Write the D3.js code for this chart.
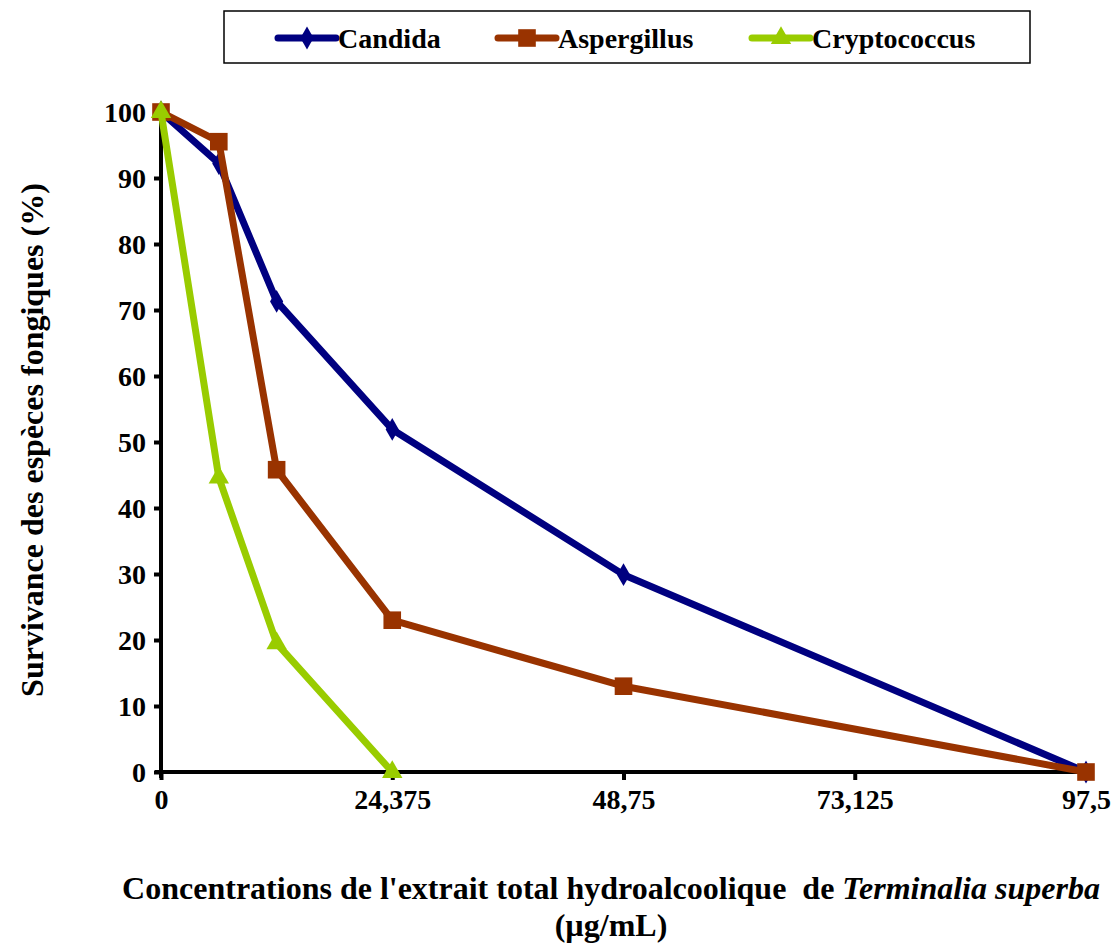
<!DOCTYPE html>
<html>
<head>
<meta charset="utf-8">
<script src="https://cdn.jsdelivr.net/npm/d3@7"></script>
<style>
  body { margin: 0; background: #fff; }
</style>
</head>
<body>
<div id="chart"></div>
<script>
const concentrations = [0, 6.09375, 12.1875, 24.375, 48.75, 97.5];
const candida = [100, 92.2, 71.3, 51.9, 29.9, 0];
const aspergillus = [100, 95.5, 45.8, 23.0, 13.0, 0];
const cryptococcus = [100, 44.6, 19.5, 0];
const xTicks = [0, 24.375, 48.75, 73.125, 97.5];
const xTickLabels = ["0", "24,375", "48,75", "73,125", "97,5"];
const yTicks = [0, 10, 20, 30, 40, 50, 60, 70, 80, 90, 100];

const FONT = "'Liberation Serif', 'Times New Roman', serif";

const series = [
  { name: "Candida", values: candida, color: "#000080", symbol: d3.symbolDiamond, size: 150 },
  { name: "Aspergillus", values: aspergillus, color: "#993300", symbol: d3.symbolSquare, size: 310 },
  { name: "Cryptococcus", values: cryptococcus, color: "#99cc00", symbol: d3.symbolTriangle, size: 180 }
];

const W = 1119, H = 943;
const svg = d3.select("#chart").append("svg")
  .attr("width", W)
  .attr("height", H)
  .attr("font-family", FONT)
  .attr("font-weight", "bold");

const x = d3.scaleLinear().domain([0, 97.5]).range([161, 1086]);
const y = d3.scaleLinear().domain([0, 100]).range([772, 112]);

// axes
const xAxis = svg.append("g")
  .attr("transform", "translate(0," + y(0) + ")")
  .call(d3.axisBottom(x).tickValues(xTicks).tickSize(8).tickPadding(5)
    .tickFormat((d, i) => xTickLabels[i]));
const yAxis = svg.append("g")
  .attr("transform", "translate(" + x(0) + ",0)")
  .call(d3.axisLeft(y).tickValues(yTicks).tickSize(7).tickPadding(8));

[xAxis, yAxis].forEach(a => {
  a.attr("font-family", FONT).attr("font-size", 28);
  a.select(".domain").attr("stroke", "#000").attr("stroke-width", 4);
  a.selectAll(".tick line").attr("stroke", "#000").attr("stroke-width", 4);
  a.selectAll(".tick text").attr("fill", "#000");
});
xAxis.select(".domain").attr("d", "M" + (x(0) - 6) + ",0H" + x(97.5));
yAxis.select(".domain").attr("d", "M0," + (y(0) + 6) + "V" + y(100));
xAxis.selectAll(".tick text").attr("dy", "0.85em");
yAxis.selectAll(".tick text").attr("dy", "0.35em");

// lines
const line = d3.line()
  .x((d, i) => x(concentrations[i]))
  .y(d => y(d));

series.forEach(s => {
  svg.append("path")
    .datum(s.values)
    .attr("fill", "none")
    .attr("stroke", s.color)
    .attr("stroke-width", 7)
    .attr("stroke-linejoin", "round")
    .attr("d", line);
  svg.selectAll(null)
    .data(s.values)
    .enter()
    .append("path")
    .attr("d", d3.symbol().type(s.symbol).size(s.size))
    .attr("transform", (d, i) => "translate(" + x(concentrations[i]) + "," + y(d) + ")")
    .attr("fill", s.color);
});

// legend
const legend = svg.append("g");
legend.append("rect")
  .attr("x", 224).attr("y", 11)
  .attr("width", 806).attr("height", 52)
  .attr("fill", "#fff")
  .attr("stroke", "#000")
  .attr("stroke-width", 1.5);

const legendX = [278, 498, 752];
series.forEach((s, i) => {
  const g = legend.append("g").attr("transform", "translate(" + legendX[i] + ",38)");
  g.append("line")
    .attr("x1", 0).attr("x2", 58)
    .attr("stroke", s.color).attr("stroke-width", 7)
    .attr("stroke-linecap", "round");
  g.append("path")
    .attr("d", d3.symbol().type(s.symbol).size(s.size))
    .attr("transform", "translate(29,0)")
    .attr("fill", s.color);
  g.append("text")
    .attr("x", 60).attr("y", 10)
    .attr("font-size", 28)
    .text(s.name);
});

// axis titles
svg.append("text")
  .attr("transform", "translate(43,440) rotate(-90)")
  .attr("text-anchor", "middle")
  .attr("font-size", 32)
  .text("Survivance des espèces fongiques (%)");

const xt = svg.append("text")
  .attr("x", 611).attr("y", 899)
  .attr("text-anchor", "middle")
  .attr("font-size", 32)
  .attr("xml:space", "preserve");
xt.append("tspan").text("Concentrations de l'extrait total hydroalcoolique  de ");
xt.append("tspan").attr("font-style", "italic").text("Terminalia superba");

svg.append("text")
  .attr("x", 611).attr("y", 936)
  .attr("text-anchor", "middle")
  .attr("font-size", 32)
  .text("(µg/mL)");
</script>
</body>
</html>
